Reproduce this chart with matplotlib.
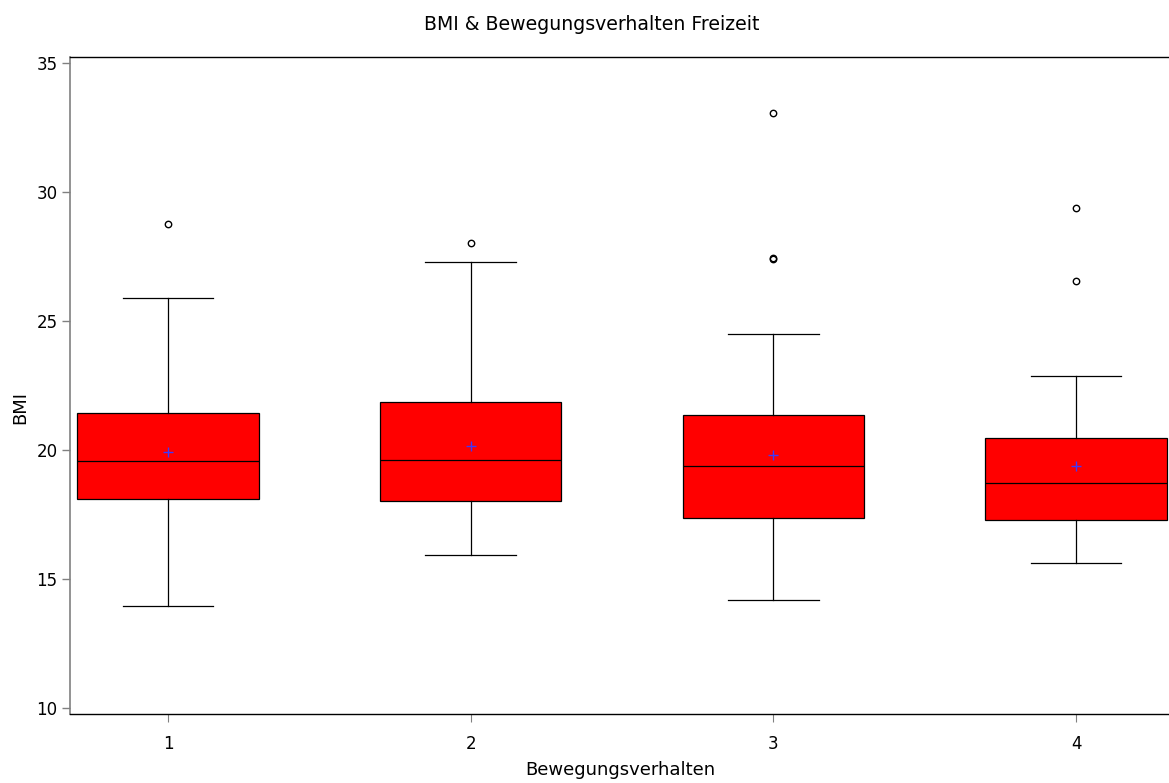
import matplotlib
matplotlib.use("Agg")
import matplotlib.pyplot as plt

groups = [1, 2, 3, 4]
q1 = [18.10, 18.04, 17.36, 17.29]
med = [19.57, 19.61, 19.38, 18.72]
q3 = [21.43, 21.86, 21.36, 20.47]
whislo = [13.95, 15.93, 14.19, 15.62]
whishi = [25.89, 27.29, 24.50, 22.87]
means = [19.92, 20.14, 19.81, 19.38]
fliers = [[28.76], [28.02], [33.08, 27.42, 27.44], [29.38, 26.55]]

title = "BMI & Bewegungsverhalten Freizeit"
xlabel = "Bewegungsverhalten"
ylabel = "BMI"
yticks = [10, 15, 20, 25, 30, 35]

plt.rcParams['font.family'] = ['DejaVu Sans']

fig = plt.figure(figsize=(11.69, 7.83), dpi=100)
ax = fig.add_axes([70/1169, 1-714/783, 1-70/1169, (714-57.3)/783])

stats = []
for i in range(len(groups)):
    stats.append(dict(label=str(groups[i]), q1=q1[i], med=med[i], q3=q3[i],
                      whislo=whislo[i], whishi=whishi[i], mean=means[i],
                      fliers=fliers[i]))

ax.bxp(stats, positions=groups, widths=0.6, patch_artist=True,
       showmeans=True, showfliers=True,
       boxprops=dict(facecolor='#ff0000', edgecolor='black', linewidth=0.9),
       medianprops=dict(color='black', linewidth=0.9),
       whiskerprops=dict(color='black', linewidth=0.9),
       capprops=dict(color='black', linewidth=0.9),
       capwidths=0.3,
       meanprops=dict(marker='+', markeredgecolor='#3a3aff', markersize=7,
                      markeredgewidth=1.0, linestyle='none', zorder=5),
       flierprops=dict(marker='o', markerfacecolor='none', markeredgecolor='black',
                       markersize=4.6, markeredgewidth=1.0))

ax.set_xlim(1 - 98/302.7, 4 + 93/302.7)
ax.set_ylim(10 - 6/25.8, 35 + 5.7/25.8)
ax.set_yticks(yticks)
ax.set_xticks(groups)
ax.set_xticklabels([str(g) for g in groups])

ax.spines['right'].set_visible(False)
ax.spines['left'].set_color('#808080')
ax.spines['left'].set_linewidth(1.2)
ax.spines['bottom'].set_color('black')
ax.spines['top'].set_color('black')
ax.spines['bottom'].set_linewidth(1.0)
ax.spines['top'].set_linewidth(1.0)

ax.tick_params(axis='y', direction='out', length=6, width=1.0, color='#808080',
               labelsize=12, pad=3)
ax.tick_params(axis='x', direction='out', length=6, width=0.8, color='#808080',
               labelsize=12, pad=9)

ax.set_ylabel(ylabel, fontsize=13)
ax.yaxis.set_label_coords(-(70-20)/1099, (714-407)/656.7)
ax.set_xlabel(xlabel, fontsize=13)
ax.xaxis.set_label_coords((620-70)/1099, -(770-714)/656.7)
ax.xaxis.label.set_va('center')
ax.yaxis.label.set_va('center')

fig.text(592/1169, 1-24/783, title, ha='center', va='center', fontsize=13.6)

fig.savefig("out.png", dpi=100)
